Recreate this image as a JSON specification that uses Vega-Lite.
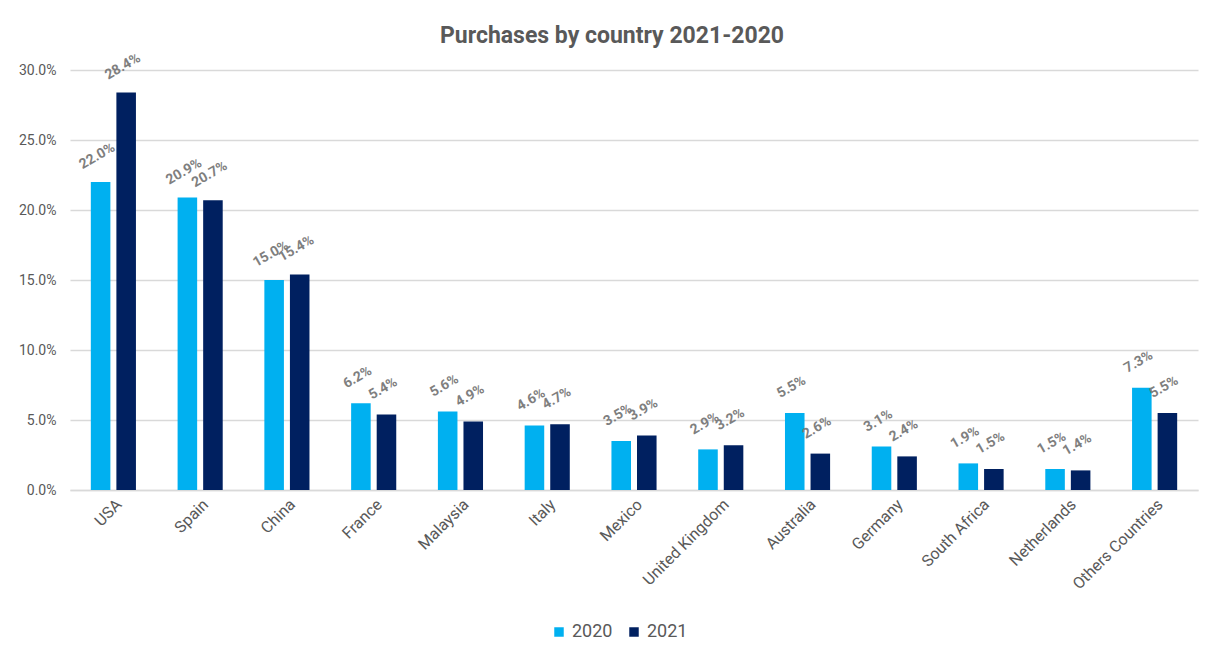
{
  "$schema": "https://vega.github.io/schema/vega-lite/v6.json",
  "width": 1128,
  "height": 420,
  "autosize": {"type": "none"},
  "padding": {"left": 70, "top": 70, "right": 15, "bottom": 165},
  "background": "white",
  "title": {
    "text": "Purchases by country 2021-2020",
    "anchor": "middle",
    "dx": -22,
    "offset": 3,
    "font": "Roboto",
    "fontSize": 23,
    "fontWeight": "bold",
    "color": "#595959"
  },
  "data": {
    "values": [
      {"country": "USA", "year": "2020", "share": 0.220},
      {"country": "USA", "year": "2021", "share": 0.284},
      {"country": "Spain", "year": "2020", "share": 0.209},
      {"country": "Spain", "year": "2021", "share": 0.207},
      {"country": "China", "year": "2020", "share": 0.150},
      {"country": "China", "year": "2021", "share": 0.154},
      {"country": "France", "year": "2020", "share": 0.062},
      {"country": "France", "year": "2021", "share": 0.054},
      {"country": "Malaysia", "year": "2020", "share": 0.056},
      {"country": "Malaysia", "year": "2021", "share": 0.049},
      {"country": "Italy", "year": "2020", "share": 0.046},
      {"country": "Italy", "year": "2021", "share": 0.047},
      {"country": "Mexico", "year": "2020", "share": 0.035},
      {"country": "Mexico", "year": "2021", "share": 0.039},
      {"country": "United Kingdom", "year": "2020", "share": 0.029},
      {"country": "United Kingdom", "year": "2021", "share": 0.032},
      {"country": "Australia", "year": "2020", "share": 0.055},
      {"country": "Australia", "year": "2021", "share": 0.026},
      {"country": "Germany", "year": "2020", "share": 0.031},
      {"country": "Germany", "year": "2021", "share": 0.024},
      {"country": "South Africa", "year": "2020", "share": 0.019},
      {"country": "South Africa", "year": "2021", "share": 0.015},
      {"country": "Netherlands", "year": "2020", "share": 0.015},
      {"country": "Netherlands", "year": "2021", "share": 0.014},
      {"country": "Others Countries", "year": "2020", "share": 0.073},
      {"country": "Others Countries", "year": "2021", "share": 0.055}
    ]
  },
  "encoding": {
    "x": {
      "field": "country",
      "type": "nominal",
      "sort": null,
      "title": null,
      "scale": {"paddingInner": 0.48, "paddingOuter": 0.24},
      "axis": {
        "labelAngle": -45,
        "labelAlign": "right",
        "labelBaseline": "top",
        "labelPadding": 6,
        "labelFont": "Roboto",
        "labelFontSize": 16,
        "labelColor": "#595959",
        "ticks": false,
        "domainColor": "#D9D9D9",
        "domainWidth": 1.5,
        "grid": false
      }
    },
    "xOffset": {
      "field": "year",
      "type": "nominal",
      "scale": {"paddingInner": 0.235, "paddingOuter": 0}
    },
    "y": {
      "field": "share",
      "type": "quantitative",
      "title": null,
      "scale": {"domain": [0, 0.3], "nice": false},
      "axis": {
        "format": ".1%",
        "values": [0, 0.05, 0.1, 0.15, 0.2, 0.25, 0.3],
        "labelFont": "Roboto",
        "labelFontSize": 14,
        "labelColor": "#595959",
        "labelPadding": 14,
        "ticks": false,
        "domain": false,
        "gridColor": "#D9D9D9",
        "gridWidth": 1.5
      }
    }
  },
  "layer": [
    {
      "mark": {"type": "bar"},
      "encoding": {
        "color": {
          "field": "year",
          "type": "nominal",
          "scale": {"domain": ["2020", "2021"], "range": ["#00B0F0", "#002060"]},
          "legend": {
            "title": null,
            "orient": "none",
            "direction": "horizontal",
            "legendX": 480,
            "legendY": 553,
            "symbolType": "square",
            "symbolSize": 90,
            "symbolStrokeWidth": 0,
            "labelFont": "Roboto",
            "labelFontSize": 18,
            "labelColor": "#595959",
            "columnPadding": 12,
            "labelOffset": 4
          }
        }
      }
    },
    {
      "mark": {
        "type": "text",
        "angle": -30,
        "align": "center",
        "baseline": "middle",
        "dx": 10,
        "dy": -24,
        "font": "Roboto",
        "fontSize": 14,
        "fontWeight": "bold",
        "color": "#7F7F7F"
      },
      "encoding": {
        "text": {"field": "share", "type": "quantitative", "format": ".1%"}
      }
    }
  ],
  "config": {
    "view": {"stroke": null}
  }
}
